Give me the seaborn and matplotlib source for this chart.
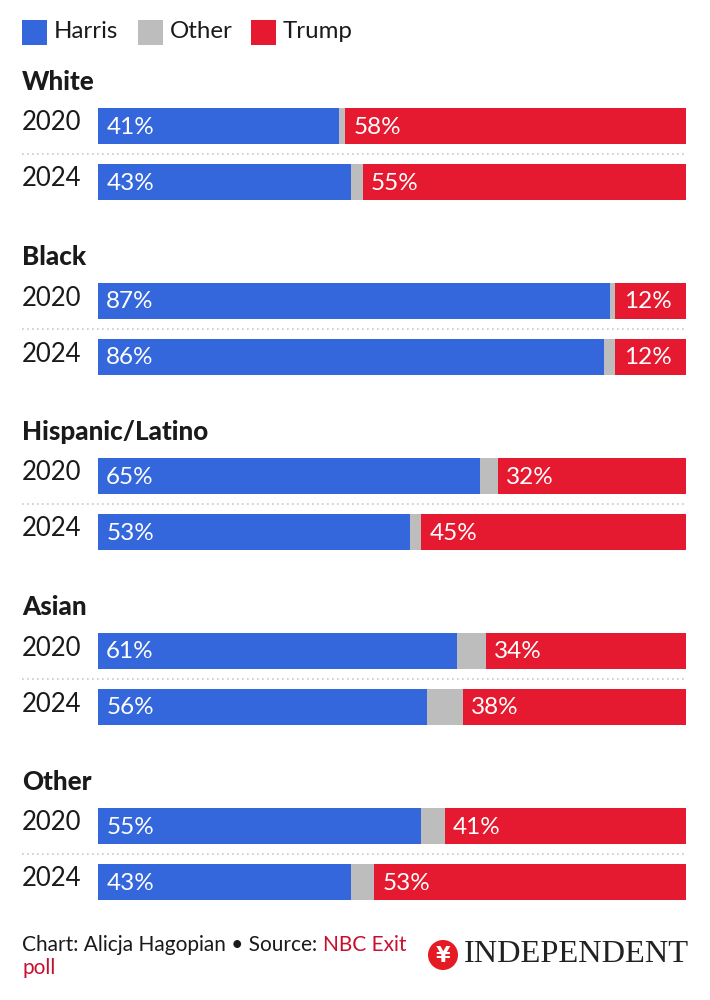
import pandas as pd
import matplotlib.pyplot as plt
import seaborn as sns
from matplotlib.patches import Rectangle, Ellipse

# Data (NBC exit poll)
groups = ['White', 'Black', 'Hispanic/Latino', 'Asian', 'Other']
years = ['2020', '2024']
harris = [41, 43, 87, 86, 65, 53, 61, 56, 55, 43]
other = [1, 2, 1, 2, 3, 2, 5, 6, 4, 4]
trump = [58, 55, 12, 12, 32, 45, 34, 38, 41, 53]

BLUE = '#3466dc'
GREY = '#bdbdbd'
RED = '#e5192f'
TEXT = '#1a1a1a'

# layout in pixels (figure is 710x1000 at dpi 100)
X0, X1 = 98, 686
PX = (X1 - X0) / 100.0
GROUP_STEP = 175
FIRST_BAR = 126
BAR_GAP = 56
BAR_H = 36

rows = []
for g, grp in enumerate(groups):
    for k, yr in enumerate(years):
        i = g * 2 + k
        rows.append({'group': grp, 'year': yr,
                     'harris': harris[i], 'other': other[i], 'trump': trump[i],
                     'ypos': FIRST_BAR + g * GROUP_STEP + k * BAR_GAP})
df = pd.DataFrame(rows)
df['h_o'] = df['harris'] + df['other']
df['total'] = df['h_o'] + df['trump']

sns.set_style('white')
plt.rcParams['font.family'] = ['Lato', 'DejaVu Sans']

fig = plt.figure(figsize=(7.1, 10), dpi=100)
ax = fig.add_axes([0, 0, 1, 1])

# stacked bars: draw cumulative layers from the back
w = BAR_H / BAR_GAP
for col, c in [('total', RED), ('h_o', GREY), ('harris', BLUE)]:
    sns.barplot(data=df, x=col, y='ypos', orient='h', native_scale=True,
                color=c, saturation=1, width=w, errorbar=None, linewidth=0,
                ax=ax)

ax.set_xlim(-X0 / PX, (710 - X0) / PX)
ax.set_ylim(1000, 0)
ax.axis('off')


def px(x):
    return (x - X0) / PX


# group titles and dotted separators
for g, grp in enumerate(groups):
    ax.text(px(22), FIRST_BAR + g * GROUP_STEP - 44, grp, fontsize=18.7,
            fontweight='black', color=TEXT, va='center', ha='left')
    ysep = FIRST_BAR + g * GROUP_STEP + BAR_GAP / 2
    ax.plot([px(22), px(686)], [ysep, ysep], color='#c8c8c8', lw=1.2,
            ls=(0, (1, 2)))

# year labels and value labels
for _, r in df.iterrows():
    ax.text(px(22), r['ypos'] - 3, r['year'], fontsize=18.5, color=TEXT,
            va='center', ha='left')
    ax.text(1.4, r['ypos'] + 1, f"{r['harris']}%", fontsize=17.5, color='white',
            va='center', ha='left')
    ax.text(r['h_o'] + 1.4, r['ypos'] + 1, f"{r['trump']}%", fontsize=17.5,
            color='white', va='center', ha='left')

# legend
legend_items = [('Harris', BLUE, 22), ('Other', GREY, 138), ('Trump', RED, 251)]
for name, c, lx in legend_items:
    ax.add_patch(Rectangle((px(lx), 20), 25 / PX, 25, color=c, lw=0))
    ax.text(px(lx + 32), 31, name, fontsize=17.3, color=TEXT, va='center',
            ha='left')

# footer
t1 = ax.text(px(22), 945, 'Chart: Alicja Hagopian \u2022 Source: ', fontsize=15,
             color=TEXT, va='center', ha='left')
fig.canvas.draw()
bb = t1.get_window_extent()
x_end = ax.transData.inverted().transform((bb.x1, bb.y0))[0]
ax.text(x_end, 945, 'NBC Exit', fontsize=15, color='#c8102e', va='center',
        ha='left')
ax.text(px(22), 968, 'poll', fontsize=15, color='#c8102e', va='center',
        ha='left')

# Independent logo
ax.add_patch(Ellipse((px(443), 955), 30 / PX, 30, color='#e41b23', lw=0))
ax.text(px(443), 956, '\u00a5', fontsize=15, color='white', fontweight='bold',
        va='center', ha='center', family='DejaVu Sans')
ax.text(px(464), 955, 'INDEPENDENT', fontsize=23.4, color='#222222',
        family='Liberation Serif', va='center', ha='left')

fig.savefig('out.png', dpi=100, facecolor='white')
